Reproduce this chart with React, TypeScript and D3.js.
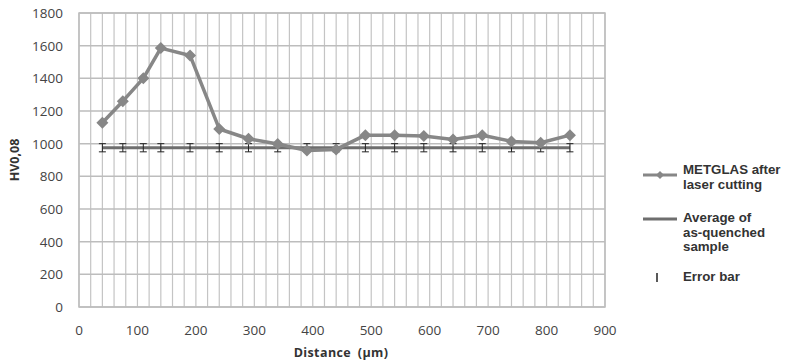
import React from "react";
import * as d3 from "d3";

const distances = [40, 75, 110, 140, 190, 240, 290, 340, 390, 440, 490, 540, 590, 640, 690, 740, 790, 840];
const hardness = [1128, 1260, 1400, 1585, 1540, 1090, 1030, 998, 958, 965, 1052, 1052, 1047, 1025, 1052, 1014, 1006, 1052];
const averageValue = 975;
const errorValue = 25;
const yTicks = [0, 200, 400, 600, 800, 1000, 1200, 1400, 1600, 1800];
const xTicks = [0, 100, 200, 300, 400, 500, 600, 700, 800, 900];
const legendLabels = [["METGLAS after", "laser cutting"], ["Average of", "as-quenched", "sample"], ["Error bar"]];

export default function App() {
  const W = 787, H = 364;
  const left = 79, right = 605, top = 13, bottom = 307;
  const x = d3.scaleLinear().domain([0, 900]).range([left, right]);
  const y = d3.scaleLinear().domain([0, 1800]).range([bottom, top]);
  const minor = d3.range(0, 901, 20);
  const pts = distances.map((d, i) => [x(d), y(hardness[i])] as [number, number]);
  const line = d3.line()(pts) || "";
  const font = "'Open Sans', 'DejaVu Sans', sans-serif";
  const diamond = (cx: number, cy: number, r: number) =>
    `M${cx},${cy - r}L${cx + r},${cy}L${cx},${cy + r}L${cx - r},${cy}Z`;
  const groupBase = [174, 222, 281];
  return (
    <svg width={W} height={H} style={{ position: "absolute", left: 0, top: 0, background: "#fff" }}>
      {minor.map((v) => (
        <line key={"v" + v} x1={x(v)} x2={x(v)} y1={top} y2={bottom} stroke="#c4c4c4" strokeWidth={1.2} />
      ))}
      {yTicks.map((v) => (
        <line key={"h" + v} x1={left} x2={right} y1={y(v)} y2={y(v)} stroke="#bdbdbd" strokeWidth={1.5} />
      ))}
      <rect x={left} y={top} width={right - left} height={bottom - top} fill="none" stroke="#bdbdbd" strokeWidth={1.5} />
      {yTicks.map((v) => (
        <text key={"yl" + v} x={63} y={y(v) + 5} textAnchor="end" fontSize={13.5} fontFamily={font} fill="#444">{v}</text>
      ))}
      {xTicks.map((v) => (
        <text key={"xl" + v} x={x(v)} y={335} textAnchor="middle" fontSize={13.5} fontFamily={font} fill="#444">{v}</text>
      ))}
      <text x={341} y={357} textAnchor="middle" fontSize={12.5} fontWeight="bold" fontFamily={font} fill="#333" letterSpacing={0.4} wordSpacing={3}>Distance (µm)</text>
      <text transform={`translate(19,${y(900)}) rotate(-90)`} textAnchor="middle" fontSize={12.5} fontWeight="bold" fontFamily={font} fill="#333">HV0,08</text>
      <line x1={x(distances[0])} x2={x(distances[distances.length - 1])} y1={y(averageValue)} y2={y(averageValue)} stroke="#6e6e6e" strokeWidth={3} />
      {distances.map((d) => (
        <g key={"e" + d} stroke="#222" strokeWidth={1}>
          <line x1={x(d)} x2={x(d)} y1={y(averageValue + errorValue)} y2={y(averageValue - errorValue)} />
          <line x1={x(d) - 3.5} x2={x(d) + 3.5} y1={y(averageValue + errorValue)} y2={y(averageValue + errorValue)} />
          <line x1={x(d) - 3.5} x2={x(d) + 3.5} y1={y(averageValue - errorValue)} y2={y(averageValue - errorValue)} />
        </g>
      ))}
      <path d={line} fill="none" stroke="#878787" strokeWidth={3.5} strokeLinejoin="round" />
      {pts.map(([px, py], i) => (
        <path key={"p" + i} d={diamond(px, py, 6)} fill="#878787" />
      ))}
      <line x1={643} x2={677} y1={175} y2={175} stroke="#878787" strokeWidth={3} />
      <path d={diamond(660, 175, 4)} fill="#878787" />
      <line x1={643} x2={677} y1={219} y2={219} stroke="#6e6e6e" strokeWidth={3} />
      <line x1={657} x2={657} y1={273} y2={282} stroke="#222" strokeWidth={1.5} />
      {legendLabels.map((lines, gi) =>
        lines.map((t, li) => (
          <text key={gi + "-" + li} x={683} y={groupBase[gi] + li * 14.5} fontSize={13.3} fontWeight="bold" fontFamily="'Liberation Sans', Arial, sans-serif" fill="#333">{t}</text>
        ))
      )}
    </svg>
  );
}
